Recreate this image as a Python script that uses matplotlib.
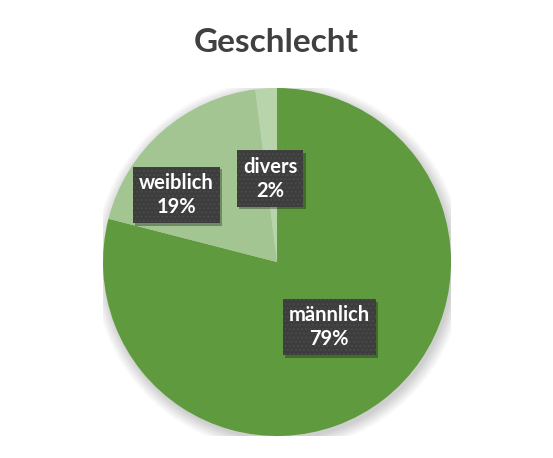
import matplotlib
matplotlib.use('Agg')
import matplotlib.pyplot as plt
from matplotlib.patches import Circle, Rectangle

### Data
categories = ['männlich', 'weiblich', 'divers']
shares = [79, 19, 2]
colors = ['#5f9b3e', '#a2c592', '#b8d4ab']
# label box positions (fraction of radius), roughly as Excel placed them
label_pos = [(0.30, -0.375), (-0.58, 0.385), (-0.04, 0.48)]

plt.rcParams['font.family'] = ['Lato', 'DejaVu Sans']

fig = plt.figure(figsize=(5.53, 4.58), dpi=100)
fig.patch.set_facecolor('white')
ax = fig.add_axes([0.1863, 0.048, 0.6293, 0.7598])
ax.set_xlim(-1, 1)
ax.set_ylim(-1, 1)
ax.set_aspect('equal')
ax.axis('off')

### soft shadow behind the pie
for i in range(12):
    r = 1.0 + 0.006 * i
    ax.add_patch(Circle((0.012, -0.02), r, facecolor='black', alpha=0.016,
                        edgecolor='none', zorder=0))

wedges, _ = ax.pie(shares, colors=colors, startangle=90, counterclock=False,
                   radius=1, wedgeprops=dict(linewidth=0), frame=False)
for w in wedges:
    w.set_zorder(1)
ax.set_xlim(-1, 1)
ax.set_ylim(-1, 1)

labels = []
for name, val, (x, y) in zip(categories, shares, label_pos):
    t = ax.text(x, y, '{}\n{}%'.format(name, val), ha='center', va='center',
                color='white', fontsize=14.5, fontweight='bold', linespacing=1.25,
                zorder=5,
                bbox=dict(boxstyle='square,pad=0.3', facecolor='#3d3d3d',
                          edgecolor='#4a4a4a', hatch='....', linewidth=0))
    labels.append(t)

### plain drop shadow under each label box
fig.canvas.draw()
renderer = fig.canvas.get_renderer()
for t in labels:
    bb = t.get_bbox_patch().get_window_extent(renderer)
    (x0, y0), (x1, y1) = ax.transData.inverted().transform([(bb.x0 + 2.5, bb.y0 - 2.5),
                                                            (bb.x1 + 2.5, bb.y1 - 2.5)])
    ax.add_patch(Rectangle((x0, y0), x1 - x0, y1 - y0, facecolor='black',
                           alpha=0.3, linewidth=0, zorder=4))

fig.text(0.5, 0.908, 'Geschlecht', ha='center', va='center', fontsize=24,
         fontweight='bold', color='#404040')

fig.savefig('out.png', dpi=100, facecolor='white')
